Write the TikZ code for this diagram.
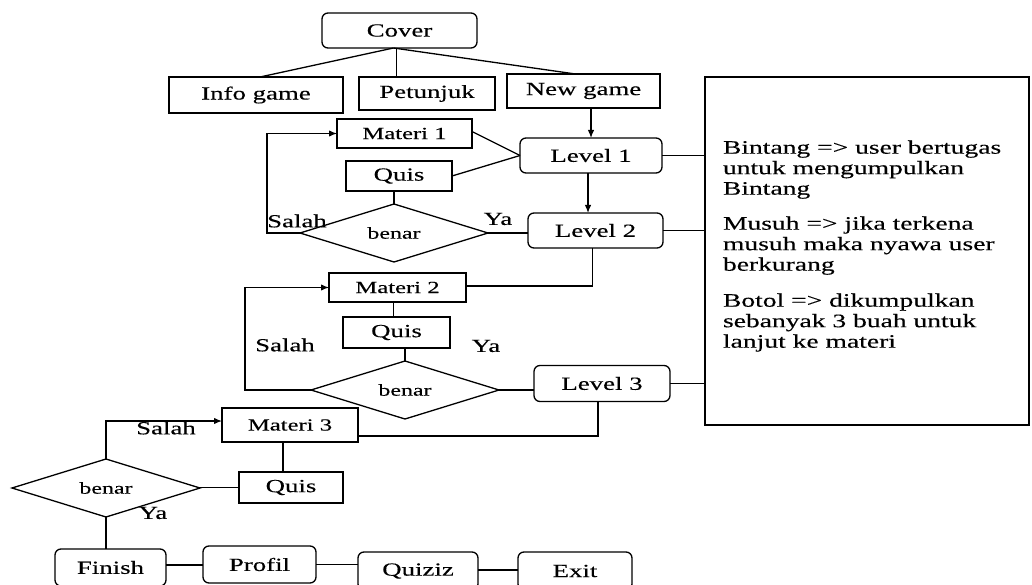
\documentclass[tikz,border=0pt]{standalone}
\usepackage{fontspec}
\setmainfont{Liberation Serif}[FakeStretch=1.45,FakeBold=0.3]
\usetikzlibrary{shapes.geometric,arrows.meta,calc}
\begin{document}
\begin{tikzpicture}[x=1pt,y=-1pt,
  every node/.style={inner sep=0pt,outer sep=0pt},
  line width=1.3pt,
  bigfont/.style={font=\fontsize{18.5}{22}\selectfont},
  sbox/.style={draw,rectangle,line width=1.3pt,bigfont},
  rbox/.style={draw,rectangle,rounded corners=6pt,line width=1.3pt,bigfont},
  mbox/.style={draw,rectangle,line width=1.3pt,font=\fontsize{17}{20}\selectfont},
  dbox/.style={draw,diamond,aspect=3.2,minimum width=188pt,minimum height=58pt,line width=1.3pt,font=\fontsize{16.5}{20}\selectfont},
  lab/.style={bigfont},
  notefont/.style={font=\fontsize{19}{20.5}\selectfont,align=left,anchor=north west},
  arr/.style={-{Latex[length=8pt,width=6.5pt]}}
]
\useasboundingbox (0,0) rectangle (1032,585);
\clip (0,0) rectangle (1032,585);

% nodes
\node[rbox,minimum width=155pt,minimum height=35pt] (cover) at (399.5,30.5) {Cover};
\node[sbox,minimum width=174pt,minimum height=36pt] (info) at (256,95) {Info game};
\node[sbox,minimum width=136pt,minimum height=33pt] (petunjuk) at (427,93.5) {Petunjuk};
\node[sbox,minimum width=153pt,minimum height=34pt] (newgame) at (583.5,91) {New game};

\node[mbox,minimum width=135pt,minimum height=29pt] (materi1) at (404.5,133.5) {Materi 1};
\node[rbox,minimum width=142pt,minimum height=35pt] (level1) at (591,155.5) {Level 1};
\node[sbox,minimum width=106pt,minimum height=30pt] (quis1) at (399,176) {Quis};
\node[dbox] (benar1) at (394,233) {benar};
\node[rbox,minimum width=135pt,minimum height=35pt] (level2) at (595.5,230.5) {Level 2};

\node[mbox,minimum width=137pt,minimum height=29pt] (materi2) at (397.5,287.5) {Materi 2};
\node[sbox,minimum width=107pt,minimum height=31pt] (quis2) at (396.5,332.5) {Quis};
\node[dbox] (benar2) at (405,390) {benar};
\node[rbox,minimum width=136pt,minimum height=36pt] (level3) at (602,383.5) {Level 3};

\node[mbox,minimum width=136pt,minimum height=34pt] (materi3) at (290,425) {Materi 3};
\node[sbox,minimum width=104pt,minimum height=31pt] (quis3) at (291,487.5) {Quis};
\node[dbox] (benar3) at (106,488) {benar};

\node[rbox,minimum width=111pt,minimum height=37pt] (finish) at (110.5,567.5) {Finish};
\node[rbox,minimum width=113pt,minimum height=37pt] (profil) at (259.5,564.5) {Profil};
\node[rbox,minimum width=120pt,minimum height=38pt] (quiziz) at (418,571) {Quiziz};
\node[rbox,minimum width=114pt,minimum height=38pt] (exit) at (575,571) {Exit};

\node[draw,rectangle,line width=1.3pt,minimum width=324pt,minimum height=348pt] (notes) at (867,251) {};
\node[notefont] (note1) at (723,140.5) {Bintang => user bertugas\\untuk mengumpulkan\\Bintang};
\node[notefont] (note2) at (723,216.5) {Musuh => jika terkena\\musuh maka nyawa user\\berkurang};
\node[notefont] (note3) at (723,293.5) {Botol => dikumpulkan\\sebanyak 3 buah untuk\\lanjut ke materi};

% labels
\node[lab] (salah1) at (297,221) {Salah};
\node[lab] (ya1) at (498,219) {Ya};
\node[lab] (salah2) at (285,345) {Salah};
\node[lab] (ya2) at (486,346) {Ya};
\node[lab] (salah3) at (166,428) {Salah};
\node[lab] (ya3) at (153,513) {Ya};

% connectors
\draw ([xshift=-6pt]cover.south) -- ([xshift=4pt]info.north);
\draw ([xshift=-3pt]cover.south) -- ([xshift=-3pt]cover.south |- petunjuk.north);
\draw ([xshift=-6pt]cover.south) -- ([xshift=-8pt]newgame.north);
\draw[arr] (level1.north |- newgame.south) -- (level1.north);

\draw ([yshift=2pt]materi1.east) -- (level1.west);
\draw (quis1.east) -- (level1.west);
\draw[arr] ([xshift=-3pt]level1.south) -- ([xshift=-3pt]level1.south |- level2.north);
\draw (benar1.north |- quis1.south) -- (benar1.north);
\draw[arr] (benar1.west) -- ++(-33,0) |- (materi1.west);
\draw (benar1.east) -- (benar1.east -| level2.west);

\draw ([xshift=-3pt]level2.south) |- ([yshift=1.5pt]materi2.east);
\draw ([xshift=-4pt]materi2.south) -- ([xshift=-4pt]materi2.south |- quis2.north);
\draw (benar2.north |- quis2.south) -- (benar2.north);
\draw[arr] (benar2.west) -- ++(-66,0) |- (materi2.west);
\draw (benar2.east) -- (benar2.east -| level3.west);

\draw ([xshift=-4pt]level3.south) |- ([yshift=-11pt]materi3.east);
\draw ([xshift=-7pt]materi3.south) -- ([xshift=-7pt]materi3.south |- quis3.north);
\draw (quis3.west) -- (quis3.west -| benar3.east);
\draw[arr] (benar3.north) |- ([yshift=4pt]materi3.west);
\draw (benar3.south) -- (benar3.south |- finish.north);

\draw ([yshift=2.5pt]finish.east) -- ([yshift=2.5pt]finish.east -| profil.west);
\draw (profil.east) -- (profil.east -| quiziz.west);
\draw ([yshift=1pt]quiziz.east) -- ([yshift=1pt]quiziz.east -| exit.west);

\draw (level1.east) -- (level1.east -| notes.west);
\draw (level2.east) -- (level2.east -| notes.west);
\draw (level3.east) -- (level3.east -| notes.west);
\end{tikzpicture}
\end{document}
